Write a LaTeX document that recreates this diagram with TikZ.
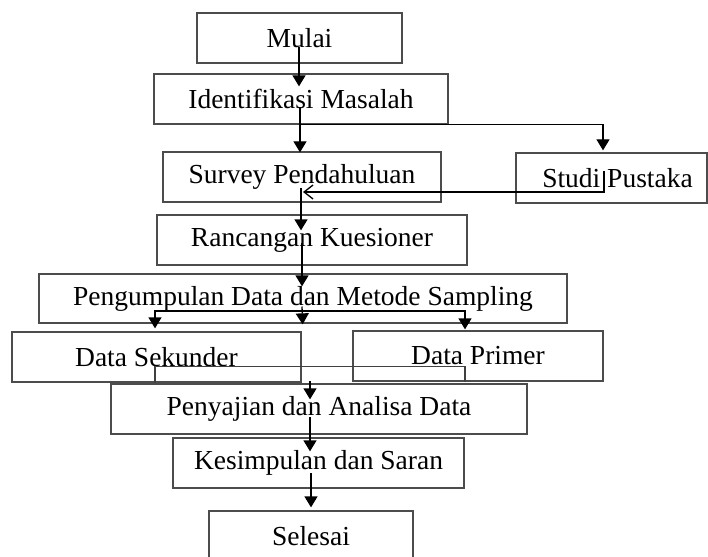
\documentclass[tikz,border=0pt]{standalone}
\usepackage{fontspec}
\setmainfont{Liberation Serif}
\usetikzlibrary{arrows.meta, positioning, calc}
\tikzset{
  stepbox/.style={rectangle, draw=black!70, line width=1.3pt,
                  inner sep=0pt, minimum height=50pt,
                  font=\fontsize{27.5}{33}\selectfont},
  flow/.style={line width=1.3pt, -{Triangle[length=11pt,width=13pt]}},
  backflow/.style={line width=1.3pt, -{Straight Barb[length=9pt,width=14pt]}},
  joinline/.style={line width=1.3pt, draw=black!75},
}

\begin{document}
\begin{tikzpicture}[x=1pt, y=-1pt]
    \useasboundingbox (0,0) rectangle (708,556);
    \clip (0,0) rectangle (708,556);
    \node[stepbox, minimum width=205pt] (mulai)       at (299.5,38)  {Mulai};
    \node[stepbox, minimum width=294pt] (ident)       at (301,99)    {Identifikasi Masalah};
    \node[stepbox, minimum width=278pt] (survey)      at (302,177)   {Survey Pendahuluan};
    \node[stepbox, minimum width=191pt] (studi)       at (611.5,178) {\hspace*{12pt}Studi Pustaka};
    \node[stepbox, minimum width=310pt] (rancangan)   at (312,240)   {Rancangan Kuesioner};
    \node[stepbox, minimum width=528pt, minimum height=49pt] (pengumpulan) at (303,298.5) {Pengumpulan Data dan Metode Sampling};
    \node[stepbox, minimum width=289pt] (sekunder)    at (156.5,357) {Data Sekunder};
    \node[stepbox, minimum width=250pt] (primer)      at (478,356)   {Data Primer};
    \node[stepbox, minimum width=416pt] (penyajian)   at (319,409)   {Penyajian dan Analisa Data};
    \node[stepbox, minimum width=291pt] (kesimpulan)  at (318.5,463) {Kesimpulan dan Saran};
    \node[stepbox, minimum width=204pt] (selesai)     at (311,536)   {Selesai};
    % Arrows
    \draw[flow] ([xshift=-0.5pt,yshift=-9pt]mulai.center) -- ([xshift=-2pt,yshift=-13pt]ident.north);
    \draw[flow] ([xshift=-1pt,yshift=-8pt]ident.center) -- ([xshift=-2pt,yshift=-1pt]survey.north);
    \draw[flow] (ident.south) -| ([xshift=-8.5pt,yshift=2pt]studi.north);
    \draw[backflow] ([xshift=-7.5pt,yshift=7pt]studi.center) |- ([xshift=1pt,yshift=-15pt]survey.center);
    \draw[flow] ([xshift=-1pt,yshift=-11pt]survey.center) -- ([xshift=-11pt,yshift=-16pt]rancangan.north);
    \draw[flow] ([xshift=-10pt,yshift=-3pt]rancangan.center) -- ([xshift=-1pt,yshift=-13pt]pengumpulan.north);
    \draw[flow] ([xshift=-1pt,yshift=-8pt]pengumpulan.center) -- ([shift={(1pt,7pt)}]sekunder.north east);
    \draw[flow] ([yshift=-12.5pt]pengumpulan.center) -| ([xshift=-1.5pt,yshift=3pt]sekunder.north);
    \draw[flow] ([yshift=-12.5pt]pengumpulan.center) -| ([xshift=-13pt,yshift=1pt]primer.north);
    \draw[joinline] ([xshift=-1.5pt]sekunder.south) |- ([xshift=-13pt,yshift=15pt]primer.south) -- ([xshift=-13pt]primer.south);
    \draw[flow] ([xshift=-9pt,yshift=2pt]penyajian.north) -- ([xshift=-9pt,yshift=-16pt]penyajian.north);
    \draw[flow] ([xshift=-9pt,yshift=-8pt]penyajian.center) -- ([xshift=-8.5pt,yshift=-14pt]kesimpulan.north);
    \draw[flow] ([xshift=-7.5pt,yshift=-10pt]kesimpulan.center) -- ([yshift=3pt]selesai.north);
\end{tikzpicture}
\end{document}
